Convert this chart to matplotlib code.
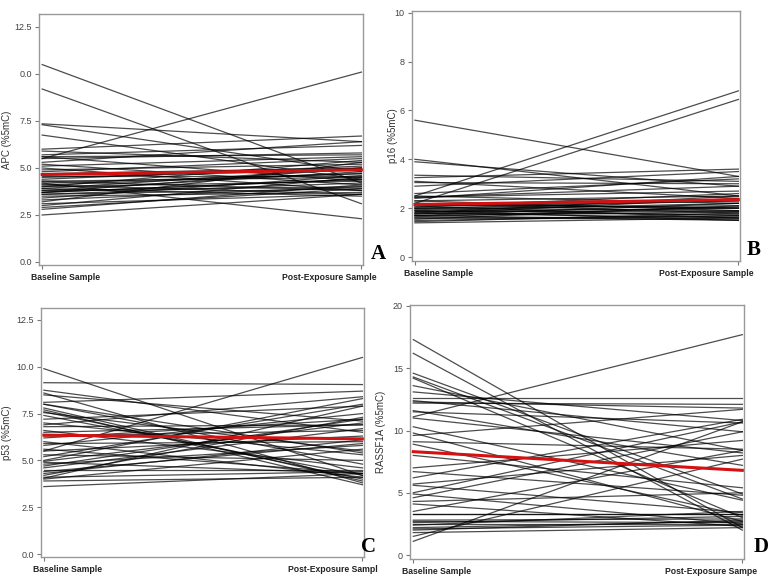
import numpy as np
import matplotlib
matplotlib.use("Agg")
import matplotlib.pyplot as plt
import matplotlib.transforms as mtransforms

plt.rcParams['font.family'] = ['Liberation Sans', 'DejaVu Sans']

# Data: baseline / post-exposure values per subject, plus group mean
apc_base = [10.5, 9.2, 7.35, 7.3, 6.75, 5.5, 6.0, 5.9, 5.7, 5.6,
            5.6, 5.5, 5.3, 5.2, 5.1, 5.0, 4.9, 4.8, 4.7, 4.6,
            4.5, 4.4, 4.3, 4.3, 4.2, 4.1, 4.0, 4.0, 3.9, 3.8,
            3.8, 3.7, 3.7, 3.6, 3.6, 3.5, 3.4, 3.3, 3.2, 3.1,
            3.0, 2.9, 2.8, 2.5, 4.2, 3.9, 4.1, 3.7]
apc_post = [4.2, 3.1, 6.4, 4.8, 4.4, 10.1, 6.7, 5.3, 6.2, 5.7,
            4.3, 5.8, 6.4, 4.1, 5.6, 3.8, 5.2, 5.5, 5.0, 4.6,
            4.9, 5.1, 3.8, 4.5, 4.7, 3.6, 5.4, 4.3, 3.5, 4.8,
            4.0, 4.4, 5.0, 3.9, 4.2, 3.7, 4.6, 4.0, 5.3, 3.6,
            4.5, 3.9, 4.1, 3.6, 2.3, 5.0, 4.7, 4.4]
apc_mean = [4.65, 4.9]

p16_base = [5.6, 2.5, 2.2, 4.0, 3.9, 3.35, 3.25, 3.1, 3.05, 2.9,
            2.6, 2.5, 2.45, 2.4, 2.3, 2.2, 2.2, 2.1, 2.1, 2.05,
            2.0, 2.0, 1.95, 1.9, 1.9, 1.85, 1.8, 1.8, 1.75, 1.7,
            1.7, 1.65, 1.6, 1.6, 1.55, 1.5, 1.45, 1.4, 2.0, 1.9,
            2.15, 1.8, 2.3, 1.7, 2.45]
p16_post = [3.3, 6.8, 6.45, 2.5, 2.9, 3.1, 3.6, 2.4, 3.0, 3.5,
            3.2, 2.2, 2.9, 3.3, 2.5, 2.0, 1.8, 2.3, 1.6, 2.6,
            1.9, 2.1, 1.7, 2.2, 1.9, 2.0, 1.6, 1.75, 2.4, 1.5,
            1.85, 2.05, 1.65, 1.55, 2.1, 1.7, 1.8, 1.6, 2.3, 1.5,
            2.0, 2.5, 1.9, 2.2, 2.7]
p16_mean = [2.15, 2.35]

p53_base = [9.9, 9.15, 8.75, 8.6, 8.5, 8.1, 8.0, 7.8, 7.6, 7.55,
            7.4, 7.2, 7.0, 6.9, 6.6, 6.5, 6.2, 6.0, 5.9, 5.8,
            5.6, 5.5, 5.5, 5.3, 5.0, 4.95, 4.9, 4.8, 4.6, 4.5,
            4.4, 4.3, 4.2, 4.1, 4.05, 4.0, 3.9, 3.6, 7.7, 6.8,
            5.2, 8.0, 4.7, 6.3]
p53_post = [4.2, 9.05, 6.5, 3.8, 7.1, 8.7, 4.8, 3.9, 4.0, 5.5,
            4.2, 7.9, 5.3, 8.4, 4.6, 6.9, 7.2, 4.1, 6.0, 7.5,
            4.3, 10.5, 6.3, 5.0, 8.3, 7.0, 4.3, 5.8, 6.7, 4.5,
            5.9, 6.1, 7.3, 4.4, 7.9, 5.6, 4.1, 4.3, 3.7, 6.9,
            8.0, 5.4, 7.2, 6.6]
p53_mean = [6.35, 6.15]

rassf_base = [17.3, 16.2, 14.6, 14.3, 14.2, 13.6, 13.1, 12.6, 12.4, 12.3,
              12.2, 11.6, 11.5, 11.1, 11.0, 10.3, 9.8, 9.6, 9.1, 8.9,
              8.0, 7.0, 6.7, 6.2, 5.7, 5.6, 5.0, 4.9, 4.6, 4.3,
              4.1, 3.5, 3.3, 2.8, 2.7, 2.6, 2.5, 2.4, 2.2, 2.1,
              2.0, 1.8, 1.5, 1.1, 3.3]
rassf_post = [2.2, 2.0, 4.9, 4.5, 3.0, 8.4, 10.8, 12.6, 9.9, 11.8,
              12.1, 7.2, 10.6, 17.7, 8.2, 4.4, 2.7, 11.7, 8.5, 3.2,
              5.4, 9.2, 4.8, 10.9, 8.0, 3.4, 10.7, 2.5, 9.9, 5.0,
              2.3, 8.4, 3.3, 2.9, 2.6, 3.1, 2.5, 3.5, 2.7, 2.4,
              2.8, 2.2, 7.7, 10.7, 3.3]
rassf_mean = [8.3, 6.8]

apc_ticks = [0, 2.5, 5.0, 7.5, 10.0, 12.5]
apc_ticklabels = ['0.0', '2.5', '5.0', '7.5', '0.0', '12.5']
p16_ticks = [0, 2, 4, 6, 8, 10]
p53_ticks = [0, 2.5, 5.0, 7.5, 10.0, 12.5]
p53_ticklabels = ['0.0', '2.5', '5.0', '7.5', '10.0', '12.5']
rassf_ticks = [0, 5, 10, 15, 20]


def draw_panel(fig, rect, base, post, mean, ylim, yticks, yticklabels,
               ylabel, xlabels, letter, letter_xy, ylabel_x):
    ax = fig.add_axes(rect)
    x = [0, 1]
    ys = np.vstack([base, post])
    ax.plot(x, ys, color='black', lw=0.9, alpha=0.7)
    ax.plot(x, mean, color='#d41010', lw=2.2)

    ax.set_xlim(-0.01, 1.005)
    ax.set_ylim(*ylim)
    ax.set_yticks(yticks)
    ax.set_yticklabels(yticklabels if yticklabels else [str(t) for t in yticks])
    ax.set_xticks(x)
    ax.set_xticklabels(xlabels, fontsize=6.2, fontweight='bold', color='#222222')
    ax.tick_params(axis='y', labelsize=6.5, labelcolor='#444444',
                   color='#777777', length=3, width=0.8, pad=2)
    ax.tick_params(axis='x', color='#777777', length=3, width=0.8, pad=3)
    for sp in ax.spines.values():
        sp.set_color('#999999')
        sp.set_linewidth(1.0)

    # shift the two category labels inward/outward like the original
    labs = ax.get_xticklabels()
    labs[0].set_ha('left')
    labs[0].set_transform(labs[0].get_transform() +
                          mtransforms.ScaledTranslation(-11 / 100, 0, fig.dpi_scale_trans))
    labs[1].set_ha('right')
    labs[1].set_transform(labs[1].get_transform() +
                          mtransforms.ScaledTranslation(15 / 100, 0, fig.dpi_scale_trans))

    ax.set_ylabel(ylabel, fontsize=7, color='#333333')
    ax.yaxis.set_label_coords(ylabel_x, 0.5, transform=mtransforms.blended_transform_factory(
        fig.transFigure, ax.transAxes))

    fig.text(letter_xy[0] / 782, 1 - letter_xy[1] / 588, letter,
             family=['Liberation Serif', 'DejaVu Serif'], fontweight='bold',
             fontsize=15, ha='center', va='center')
    return ax


def main():
    fig = plt.figure(figsize=(7.82, 5.88), dpi=100)

    draw_panel(fig, [39 / 782, 1 - 265 / 588, 324 / 782, 251 / 588],
               apc_base, apc_post, apc_mean, (-0.16, 13.19),
               apc_ticks, apc_ticklabels, 'APC (%5mC)',
               ['Baseline Sample', 'Post-Exposure Sample'],
               'A', (378, 254), 12 / 782)

    draw_panel(fig, [411.7 / 782, 1 - 261 / 588, 328.3 / 782, 250.3 / 588],
               p16_base, p16_post, p16_mean, (-0.16, 10.08),
               p16_ticks, None, 'p16 (%5mC)',
               ['Baseline Sample', 'Post-Exposure Sample'],
               'B', (754, 250), 398 / 782)

    draw_panel(fig, [40.7 / 782, 1 - 557 / 588, 323.3 / 782, 249 / 588],
               p53_base, p53_post, p53_mean, (-0.16, 13.14),
               p53_ticks, p53_ticklabels, 'p53 (%5mC)',
               ['Baseline Sample', 'Post-Exposure Sampl'],
               'C', (369, 547), 12 / 782)

    draw_panel(fig, [410 / 782, 1 - 559 / 588, 334 / 782, 254 / 588],
               rassf_base, rassf_post, rassf_mean, (-0.32, 20.08),
               rassf_ticks, None, 'RASSF1A (%5mC)',
               ['Baseline Sample', 'Post-Exposure Sampe'],
               'D', (761, 547), 386 / 782)

    fig.savefig('out.png', dpi=100)


if __name__ == "__main__":
    main()
